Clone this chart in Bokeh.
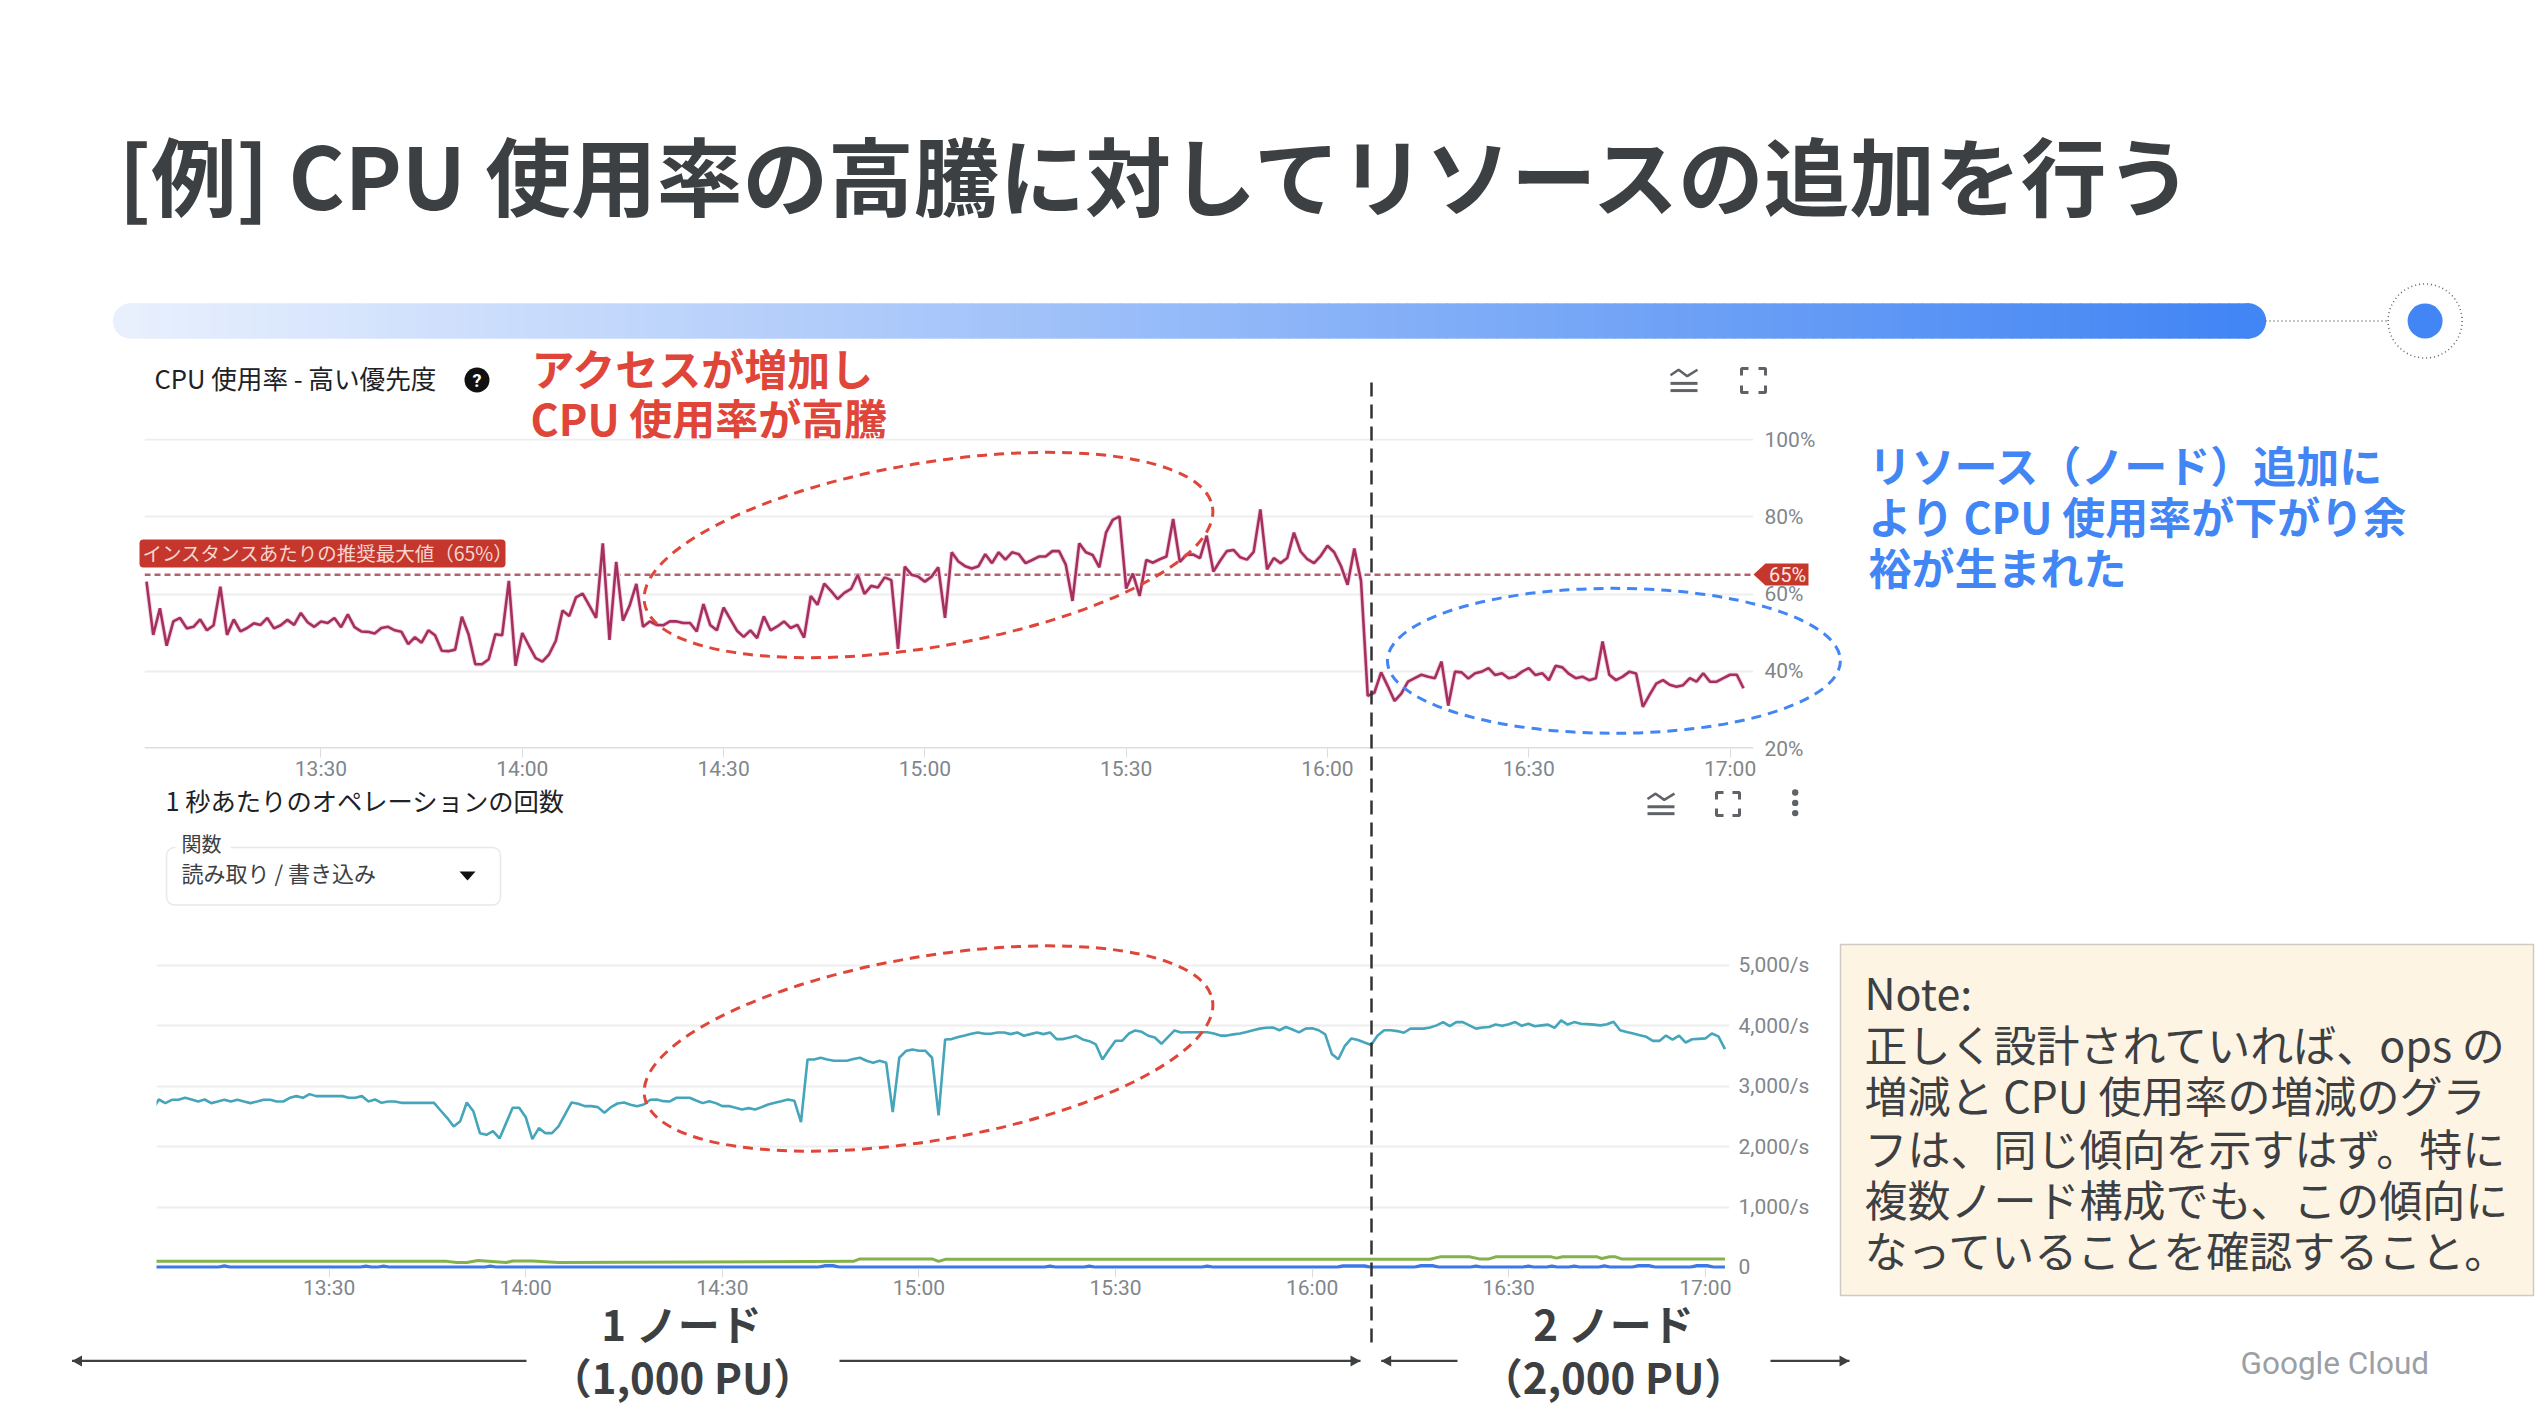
from bokeh.plotting import figure
from bokeh.models import Range1d, FixedTicker, BoxAnnotation, GridBox, Column, PrintfTickFormatter
from bokeh.core.properties import value
from bokeh.embed import file_html
from bokeh.resources import INLINE

# ---- data ----
cpu_values = [
 63.2,49.4,56.3,46.6,52.9,53.8,51.1,51.5,53.4,50.6,51.9,61.9,49.4,53.4,50.3,51.2,52.4,52.0,53.8,51.1,
 51.9,53.3,52.0,55.1,52.7,51.5,52.9,52.5,53.8,51.4,54.7,51.4,50.3,50.2,49.8,51.2,51.5,50.6,50.2,47.0,
 48.8,47.4,50.6,49.3,45.3,45.2,45.6,54.1,49.5,41.8,41.8,43.1,49.6,49.3,63.4,41.4,49.9,46.6,43.4,42.5,
 44.4,47.9,55.7,54.3,59.1,60.1,57.0,53.8,73.1,48.1,68.3,53.1,57.0,62.6,51.5,52.9,52.0,51.9,52.9,52.9,
 52.5,52.5,50.3,57.4,52.0,50.6,56.5,53.5,50.5,48.9,50.6,48.6,54.2,50.6,51.6,52.9,51.2,52.0,48.7,59.5,
 57.2,62.7,60.8,58.7,60.3,61.3,65.0,60.0,62.1,61.7,64.3,63.6,45.8,67.1,65.0,64.5,63.2,64.5,66.9,53.8,
 70.8,68.4,67.2,66.6,67.2,70.3,68.0,70.8,68.9,70.8,70.3,68.0,68.8,69.7,69.7,71.1,71.1,67.6,58.2,73.1,
 70.8,70.1,66.9,75.9,79.2,80.1,61.4,65.3,59.5,68.8,68.1,69.0,69.7,79.4,68.3,70.2,70.2,69.3,75.1,65.8,
 68.6,71.1,71.4,69.5,68.9,70.9,81.9,66.4,69.3,68.0,69.3,75.9,71.0,69.0,68.0,69.9,72.5,70.8,67.3,62.4,
 71.8,63.4,33.6,34.5,39.7,36.1,32.3,34.2,37.3,38.2,39.1,38.6,38.2,42.5,31.1,39.9,39.7,38.1,39.5,39.9,
 40.8,39.0,39.5,38.2,38.6,39.9,40.8,39.0,39.5,37.7,41.4,41.0,39.3,38.2,38.6,37.7,38.2,47.7,39.1,37.7,
 38.6,39.9,39.4,30.8,33.9,36.8,37.7,36.5,36.0,36.4,38.2,37.3,39.5,37.3,37.3,38.2,39.1,39.1,35.6]
cpu_start_minute = 4          # minutes after 13:00
cpu_limit = 65

ops_total = [
 2604,2780,2720,2775,2775,2808,2780,2747,2780,2720,2747,2775,2747,2775,2747,2720,2747,2775,2775,2747,
 2747,2808,2836,2808,2869,2836,2836,2836,2836,2836,2808,2808,2836,2747,2780,2725,2747,2747,2725,2725,
 2725,2725,2725,2725,2598,2477,2334,2422,2731,2587,2223,2196,2256,2135,2389,2643,2643,2488,2124,2306,
 2223,2223,2334,2532,2731,2709,2670,2670,2654,2560,2654,2714,2731,2692,2670,2698,2775,2780,2753,2748,
 2809,2809,2809,2764,2720,2753,2720,2671,2671,2643,2615,2637,2615,2654,2698,2726,2753,2781,2759,2406,
 3443,3443,3471,3443,3421,3421,3421,3449,3471,3421,3388,3421,3388,2571,3471,3581,3609,3586,3586,3471,
 2516,3774,3780,3813,3840,3868,3890,3868,3868,3890,3890,3862,3890,3835,3862,3890,3862,3890,3780,3780,
 3807,3835,3774,3746,3691,3443,3603,3752,3752,3868,3923,3901,3835,3807,3702,3813,3923,3890,3892,3892,
 3892,3892,3872,3838,3838,3858,3872,3899,3926,3953,3967,3973,3926,3980,3939,3892,3953,3960,3926,3858,
 3534,3446,3669,3791,3764,3723,3683,3838,3926,3926,3912,3885,3953,3953,3953,3973,4007,4061,3993,4061,
 4061,4007,3953,3973,3980,4020,4000,4027,4061,4000,4034,3993,4007,4020,3966,4088,4020,4061,4034,4027,
 4020,4007,4027,4068,3926,3899,3872,3845,3818,3750,3750,3838,3770,3838,3723,3777,3784,3791,3872,3824,3615]
ops_start_minute = 3

write_minutes = [3,48,49.5,51,52.7,57,58,61,65,110,111,122,123,124,198,199.5,204,205.5,207,208,216.5,217.3,218.2,223.5,224.2,225.4,226.3,227.2,243]
write_ops     = [101,101,81,81,115,81,108,108,81,101,142,142,101,135,135,176,176,142,142,176,176,155,176,176,149,176,176,142,142]

other_minutes = [3,13,14,15,34.6,35.6,36.6,37.3,38.3,39.3,53.6,54.6,55.6,104.5,105.6,107,108,139,140,141,145,146,147,163,164,165,183.7,184.7,188,189,195.5,196.5,198.5,199.5,204,205,206,212,213,214,215.6,216.6,217.6,219,220,221,223.6,224.6,225.6,228.7,229.7,231.5,232.5,237.6,238.6,240.4,241.4,243]
other_ops     = [2,2,27,2,2,22,2,2,22,2,2,22,2,2,27,27,2,2,22,2,2,22,2,2,22,2,2,25,25,2,2,27,27,2,2,22,2,2,22,2,2,22,2,2,22,2,2,27,2,2,27,27,2,2,27,27,2,2]

time_labels = {30:"13:30",60:"14:00",90:"14:30",120:"15:00",150:"15:30",180:"16:00",210:"16:30",240:"17:00"}
cpu_ticks = [20,40,60,80,100]
ops_ticks = [1000,2000,3000,4000,5000]
ops_tick_labels = {0:"0",1000:"1,000/s",2000:"2,000/s",3000:"3,000/s",4000:"4,000/s",5000:"5,000/s"}

title = "[例] CPU 使用率の高騰に対してリソースの追加を行う"
red_note = ["アクセスが増加し", "CPU 使用率が高騰"]
blue_note = ["リソース（ノード）追加に", "より CPU 使用率が下がり余", "裕が生まれた"]
note_lines = ["Note:", "正しく設計されていれば、ops の", "増減と CPU 使用率の増減のグラ",
              "フは、同じ傾向を示すはず。特に", "複数ノード構成でも、この傾向に", "なっていることを確認すること。"]

JP = "Noto Sans CJK JP"
DARK = "#3c4043"
RED = "#e0453a"
BLUE = "#4285f4"
TICK = "#80868b"
GRID = "#eeeeee"


def txt(p, x, y, s, size, color=DARK, font=JP, style="normal", align="left"):
    p.text(x=[x], y=[y], text=[s], text_font=value(font), text_font_size=f"{size}px",
           text_color=color, text_font_style=style, text_align=align, text_baseline="middle")


def canvas():
    p = figure(frame_width=2532, frame_height=1406, x_range=Range1d(8, 2540), y_range=Range1d(1414, 8),
               x_axis_location=None, y_axis_location=None, toolbar_location=None,
               output_backend="svg", min_border=0, outline_line_color=None,
               background_fill_color=None, border_fill_color=None, margin=(8, 0, 0, 8))
    p.grid.visible = False
    return p


def chart(x0, x1, top, bottom, tleft, per_min, y_at_bottom, per_unit, ticks, white, x_standoff, y_standoff):
    p = figure(frame_width=x1 - x0, frame_height=bottom - top,
               x_range=Range1d(tleft, tleft + (x1 - x0) / per_min),
               y_range=Range1d(y_at_bottom, y_at_bottom + (bottom - top) / per_unit),
               y_axis_location="right", toolbar_location=None, output_backend="svg",
               min_border_left=0, min_border_top=16, min_border_right=90, min_border_bottom=50,
               outline_line_color=None, border_fill_color=None,
               background_fill_color="white" if white else None,
               margin=(top - 16, 0, 0, x0))
    p.xaxis.ticker = FixedTicker(ticks=list(time_labels))
    p.xaxis.major_label_overrides = time_labels
    p.yaxis.ticker = FixedTicker(ticks=ticks)
    for ax in (p.xaxis, p.yaxis):
        ax.major_label_text_font = "Roboto"
        ax.major_label_text_font_size = "21px"
        ax.major_label_text_color = TICK
        ax.minor_tick_line_color = None
        ax.major_tick_in = 0
    p.xaxis.major_tick_out = 9
    p.xaxis.major_tick_line_color = "#dadce0"
    p.xaxis.major_tick_line_width = 1
    p.xaxis.axis_line_color = None
    p.yaxis.axis_line_color = None
    p.yaxis.major_tick_out = 0
    p.yaxis.major_tick_line_color = None
    p.xaxis.major_label_standoff = x_standoff
    p.yaxis.major_label_standoff = y_standoff
    p.xgrid.visible = False
    p.ygrid.ticker = FixedTicker(ticks=ticks)
    p.ygrid.grid_line_color = GRID
    p.ygrid.grid_line_width = 2
    return p


# ---- background slide ----
bg = canvas()
bg.quad(left=[8], right=[2540], top=[8], bottom=[1414], fill_color="white", line_color=None)
txt(bg, 118, 172, title, 85.7, DARK, style="bold")

# progress bar
n = 214
x_a, x_b = 130, 2248
c0, c1_ = (232, 240, 254), (66, 133, 244)
lefts = [x_a + (x_b - x_a) * i / n for i in range(n)]
rights = [x_a + (x_b - x_a) * (i + 1) / n + 1 for i in range(n)]
cols = ["#%02x%02x%02x" % tuple(int(c0[j] + (c1_[j] - c0[j]) * i / (n - 1)) for j in range(3)) for i in range(n)]
bg.circle(x=[x_a], y=[320.5], radius=17.7, fill_color="#e8f0fe", line_color=None)
bg.circle(x=[x_b], y=[320.5], radius=17.7, fill_color=BLUE, line_color=None)
bg.quad(left=lefts, right=rights, top=[302.8] * n, bottom=[338.2] * n, fill_color=cols, line_color=None)
bg.line([2265, 2387], [320.5, 320.5], line_color="#5f6368", line_width=1.5, line_dash="1 3")
bg.circle(x=[2424.6], y=[320.5], radius=37, fill_color=None, line_color="#5f6368", line_width=1.5, line_dash="1 3")
bg.circle(x=[2424.6], y=[320.5], radius=17.5, fill_color=BLUE, line_color=None)

txt(bg, 531, 366, red_note[0], 43, RED, style="bold")
txt(bg, 530, 416, red_note[1], 43, RED, style="bold")
for yy, s in zip((463, 514, 565), blue_note):
    txt(bg, 1868, yy, s, 43, BLUE, style="bold")

# note box
bg.quad(left=[1840], right=[2533], top=[944], bottom=[1295], fill_color="#fef4e3", line_color="#cfcbc4", line_width=1.5)
for yy, s in zip((990, 1042, 1093, 1146, 1197, 1248), note_lines):
    txt(bg, 1864, yy, s, 43, DARK)
txt(bg, 2240, 1363, "Google Cloud", 31.5, "#9aa0a6", font="Roboto")

# ---- CPU chart ----
cpu_x = [cpu_start_minute + i for i in range(len(cpu_values))]
c1 = chart(144, 1753, 438, 748, 3.70, 6.71, 20, 3.8625, cpu_ticks, True, -1, 11)
c1.yaxis.formatter = PrintfTickFormatter(format="%d%%")
c1.line(x=[3.7, 243.5], y=[20, 20], line_color="#dedede", line_width=3)
c1.line(x=[3.7, 243.5], y=[cpu_limit, cpu_limit], line_color="#b5606e", line_width=2.5, line_dash="6 4")
c1.line(x=cpu_x, y=cpu_values, line_color="#f3d3df", line_width=4.5)
c1.line(x=cpu_x, y=cpu_values, line_color="#a5305f", line_width=2.6)

# ---- ops chart ----
ops_x = [ops_start_minute + i for i in range(len(ops_total))]
c2 = chart(156, 1729, 950, 1268, 3.65, 6.553, -17, 0.06042, ops_ticks, False, -2, 9)
c2.yaxis.ticker = FixedTicker(ticks=[0] + ops_ticks)
c2.yaxis.major_label_overrides = ops_tick_labels
c2.line(x=write_minutes, y=write_ops, line_color="#83b14a", line_width=3)
c2.line(x=other_minutes, y=other_ops, line_color="#3d78e8", line_width=3.5)
c2.line(x=ops_x, y=ops_total, line_color="#45a5ba", line_width=2.6)

# ---- foreground overlay ----
fg = canvas()
# limit flag
fg.add_layout(BoxAnnotation(left=139, right=505, top=539, bottom=567, fill_color="#c5372c", fill_alpha=1,
                            line_color=None, border_radius=4, level="underlay"))
txt(fg, 142, 551.5, "インスタンスあたりの推奨最大値（65%）", 19.5, "#f6d5cf")
fg.patch(x=[1753, 1765, 1808, 1808, 1765], y=[574, 563, 563, 585, 585], fill_color="#c5372c", line_color=None)
txt(fg, 1787, 574, "65%", 20, "#fbe6e2", font="Roboto", align="center")

# chart headers
txt(fg, 154, 377, "CPU 使用率 - 高い優先度", 25.6, "#202124")
fg.circle(x=[476.5], y=[379.5], radius=12.5, fill_color="#111111", line_color=None)
txt(fg, 476.5, 380, "?", 18, "white", font="Roboto", style="bold", align="center")
txt(fg, 165, 799, "1 秒あたりのオペレーションの回数", 25.3, "#202124")


def icons(lx0, lx1, ex0, ex1, y0, y1):
    col = "#5f6368"
    h = y1 - y0
    fg.line([lx0, lx0 + (lx1 - lx0) * .3, lx0 + (lx1 - lx0) * .62, lx1],
            [y0 + h * .28, y0 + h * .05, y0 + h * .32, y0 + h * .05], line_color=col, line_width=2.5)
    fg.line([lx0, lx1], [y0 + h * .62, y0 + h * .62], line_color=col, line_width=3)
    fg.line([lx0, lx1], [y0 + h * .92, y0 + h * .92], line_color=col, line_width=3)
    k = 7
    for xa, sx in ((ex0, 1), (ex1, -1)):
        for ya, sy in ((y0, 1), (y1, -1)):
            fg.line([xa + sx * k, xa, xa], [ya, ya, ya + sy * k], line_color=col, line_width=3)


icons(1670, 1697, 1741, 1765, 368, 392)
icons(1647, 1674, 1716, 1739, 792, 815)
fg.circle(x=[1794.7] * 3, y=[792, 802.4, 812.6], radius=3.2, fill_color="#5f6368", line_color=None)

# drop-down
fg.add_layout(BoxAnnotation(left=166, right=500, top=847, bottom=904.5, fill_color="white", fill_alpha=1,
                            line_color="#b0b3b8", line_width=1.5, border_radius=8, level="underlay"))
fg.quad(left=[175], right=[230], top=[840], bottom=[852], fill_color="white", line_color=None)
txt(fg, 181, 843, "関数", 20, "#3c4043")
txt(fg, 181, 871, "読み取り / 書き込み", 22, "#3c4043")
fg.patch(x=[459, 475, 467], y=[871, 871, 880], fill_color="#111111", line_color=None)

# call-outs
ell = dict(fill_color=None, line_width=3, line_dash="10 7")
fg.ellipse(x=[928], y=[554.5], width=576, height=184, angle=0.168, line_color=RED, **ell)
fg.ellipse(x=[928], y=[1048], width=576, height=184, angle=0.168, line_color=RED, **ell)
fg.ellipse(x=[1613.4], y=[660.3], width=453, height=145, angle=0, line_color=BLUE, **ell)
fg.line([1371, 1371], [382, 1345], line_color="#333333", line_width=2.5, line_dash="14 8")

# node spans
for xa, xb in ((71.5, 526), (839, 1360), (1380.7, 1457), (1770, 1849)):
    fg.line([xa, xb], [1360.4, 1360.4], line_color=DARK, line_width=2.2)
for tip, d in ((71.5, 1), (1360, -1), (1380.7, 1), (1849, -1)):
    fg.patch(x=[tip, tip + d * 10, tip + d * 10], y=[1360.4, 1355, 1366], fill_color=DARK, line_color=None)
txt(fg, 681, 1322, "1 ノード", 42, DARK, style="bold", align="center")
txt(fg, 682, 1375, "（1,000 PU）", 42, DARK, style="bold", align="center")
txt(fg, 1613, 1322, "2 ノード", 42, DARK, style="bold", align="center")
txt(fg, 1613, 1375, "（2,000 PU）", 42, DARK, style="bold", align="center")

page = GridBox(children=[(Column(children=[bg]), 0, 0), (Column(children=[c1]), 0, 0),
                         (Column(children=[c2]), 0, 0), (Column(children=[fg]), 0, 0)],
               width=2532, height=1406)
open("out.html", "w").write(file_html(page, INLINE))
